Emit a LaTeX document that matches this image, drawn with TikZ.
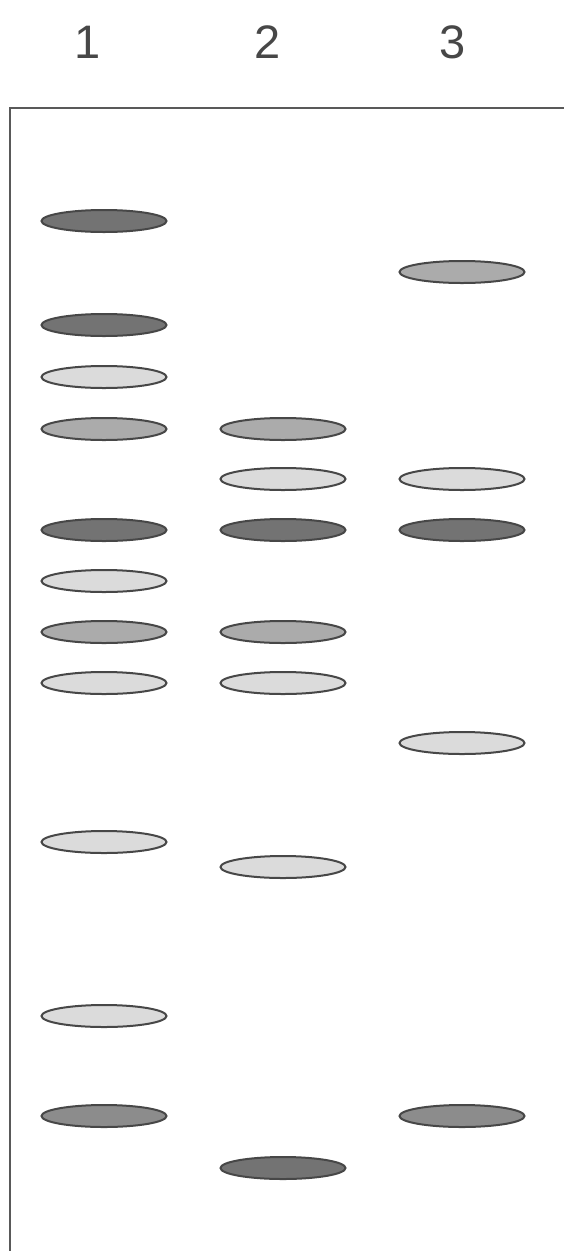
\documentclass[tikz,border=0pt]{standalone}
\usepackage{fontspec}
\setmainfont{Liberation Sans}
\usetikzlibrary{shapes.geometric}

\begin{document}
\begin{tikzpicture}[
    x=1pt, y=-1pt,
    band/.style={ellipse, draw=black!72, line width=2pt, minimum width=125pt, minimum height=22pt, inner sep=0pt},
    dark_band/.style={band, fill=black!55},
    mid_band/.style={band, fill=black!33},
    light_band/.style={band, fill=black!14},
    lane_label/.style={font=\fontsize{47}{50}\selectfont, text=black!72}
]
    \useasboundingbox (0,0) rectangle (564,1251);
    % gel frame
    \draw[black!65, line width=1.5pt] (10,1251) -- (10,108) -- (564,108);
    % lane numbers
    \node[lane_label] (L1) at (88,42) {1};
    \node[lane_label] (L2) at (268,42) {2};
    \node[lane_label] (L3) at (453,42) {3};
    % lane 1
    \foreach \y/\s [count=\i] in {221/dark, 325/dark, 377/light, 429/mid, 530/dark, 581/light, 632/mid, 683/light, 842/light, 1016/light}
        \node[\s_band] (a\i) at (104,\y) {};
    \node[band, fill=black!45] (a11) at (104,1116) {};
    % lane 2
    \foreach \y/\s [count=\i] in {429/mid, 479/light, 530/dark, 632/mid, 683/light, 867/light, 1168/dark}
        \node[\s_band] (b\i) at (283,\y) {};
    % lane 3
    \foreach \y/\s [count=\i] in {272/mid, 479/light, 530/dark, 743/light}
        \node[\s_band] (c\i) at (462,\y) {};
    \node[band, fill=black!45] (c5) at (462,1116) {};
\end{tikzpicture}
\end{document}
